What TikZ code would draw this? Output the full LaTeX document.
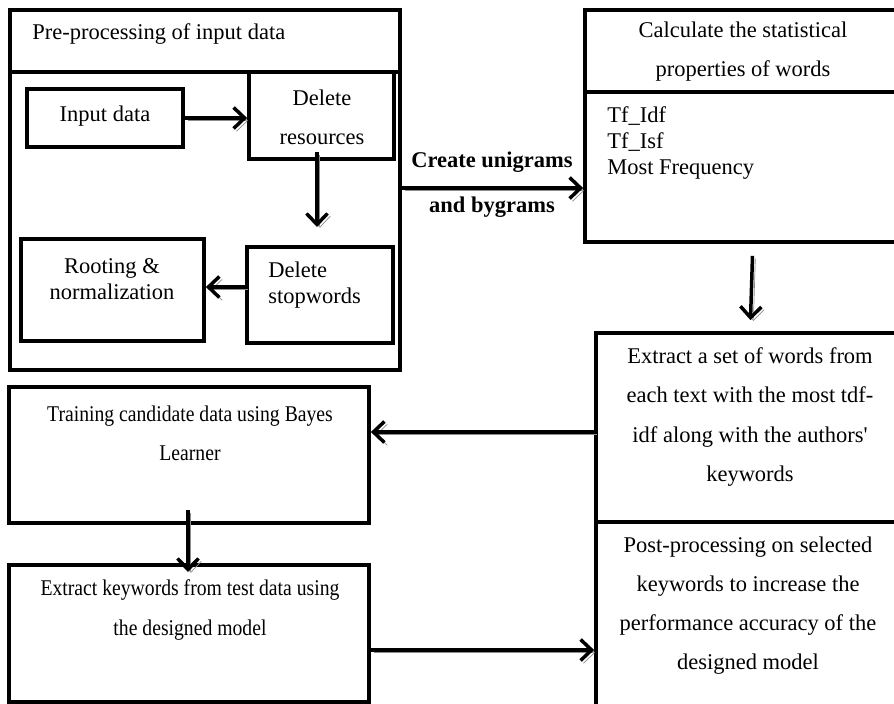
\documentclass[tikz,border=0pt]{standalone}
\usepackage{fontspec}
\setmainfont{Liberation Serif}[Ligatures=TeXOff]
\usetikzlibrary{arrows.meta,fit}

\tikzset{
  box/.style={draw, line width=0.075cm, inner sep=0pt},
  flow/.style={line width=0.07cm, -{Straight Barb[length=0.22cm,width=0.42cm]},
    preaction={draw=black!45, transform canvas={xshift=1.6pt, yshift=-1.6pt}}},
  wide/.style={font=\fontsize{12.8}{22.2}\selectfont, align=center, inner sep=0pt},
  narrow/.style={wide, font=\fontsize{12.8}{22.2}\selectfont\addfontfeatures{FakeStretch=0.875}},
  tight/.style={font=\fontsize{12.8}{14.8}\selectfont, inner sep=0pt},
}

\begin{document}
\begin{tikzpicture}[x=0.02cm, y=-0.02cm]
                    \useasboundingbox (0,0) rectangle (894,704);
                    \clip (0,0) rectangle (894,704);

                    % Drawing block pre-processing
                    \node [box, fit={(10,10) (400,72)}] (pretitle) {};%
                    \node [box, fit={(10,72) (400,370)}] (prebody) {};%
                    \node [tight, anchor=west] (pretxt) at (32,34) {Pre-processing of input data};%

                    % Drawing steps inside pre-processing
                    \node [box, fit={(27,89) (183,147)}] (inp) {};%
                    \node [tight] (inptxt) at (105,116) {Input data};%
                    \node [box, fit={(249,72) (394,159)}] (delres) {};%
                    \node [wide] (delrestxt) at (322,117) {Delete\\resources};%
                    \node [box, fit={(247,247) (393,343)}] (delstop) {};%
                    \node [tight, align=left, anchor=west] (delstoptxt) at (268,285) {Delete\\stopwords};%
                    \node [box, fit={(21,239) (204,341)}] (root) {};%
                    \node [tight, align=center] (roottxt) at (112,279) {Rooting \&\\normalization};%

                    % Drawing block statistical properties
                    \node [box, fit={(585,10) (920,92)}] (calctitle) {};%
                    \node [box, fit={(585,92) (920,242)}] (calcbody) {};%
                    \node [wide] (calctxt) at (743,52) {Calculate the statistical\\properties of words};%
                    \node [tight, align=left, anchor=west] (calclist) at (607,143) {Tf\_Idf\\Tf\_Isf\\Most Frequency};%

                    % Drawing block word extraction
                    \node [box, fit={(596,333) (905,522)}] (extr) {};%
                    \node [wide] (extrtxt) at (750,417) {Extract a set of words from\\each text with the most tdf-\\idf along with the authors'\\keywords};%

                    % Drawing block post-processing
                    \node [box, fit={(596,522) (905,720)}] (post) {};%
                    \node [wide] (posttxt) at (748,606) {Post-processing on selected\\keywords to increase the\\performance accuracy of the\\designed model};%

                    % Drawing block training
                    \node [box, fit={(9,387) (369,523)}] (train) {};%
                    \node [narrow] (traintxt) at (190,433) {Training candidate data using Bayes\\Learner};%

                    % Drawing block keyword extraction
                    \node [box, fit={(9,565) (369,702)}] (test) {};%
                    \node [narrow] (testtxt) at (190,610) {Extract keywords from test data using\\the designed model};%

                    % Drawing arrows
                    \draw [flow] (inp.east) -- (inp.east -| delres.west);%
                    \draw [flow] ([xshift=-0.09cm]delres.south) ++(0,-9) -- ([xshift=-0.09cm]delres.south |- 0,227);%
                    \draw [flow] ([yshift=0.16cm]delstop.west) -- ([yshift=0.16cm]delstop.west -| root.east);%
                    \draw [flow] (prebody.east |- 0,188) coordinate (uni) -- (uni -| calcbody.west);%
                    \node [wide, font=\fontsize{12.8}{25.5}\selectfont\bfseries] (unitxt) at (492,185) {Create unigrams\\and bygrams};%
                    \draw [flow] (calcbody.south) ++(0,12) -- ([yshift=0.22cm]extr.north);%
                    \draw [flow] (extr.west |- 0,432) coordinate (back) -- (back -| train.east);%
                    \draw [flow] (train.south -| 188,0) ++(0,-15) -- (188,572);%
                    \draw [flow] (test.east |- 0,650) coordinate (fwd) -- (fwd -| post.west);%
\end{tikzpicture}
\end{document}
